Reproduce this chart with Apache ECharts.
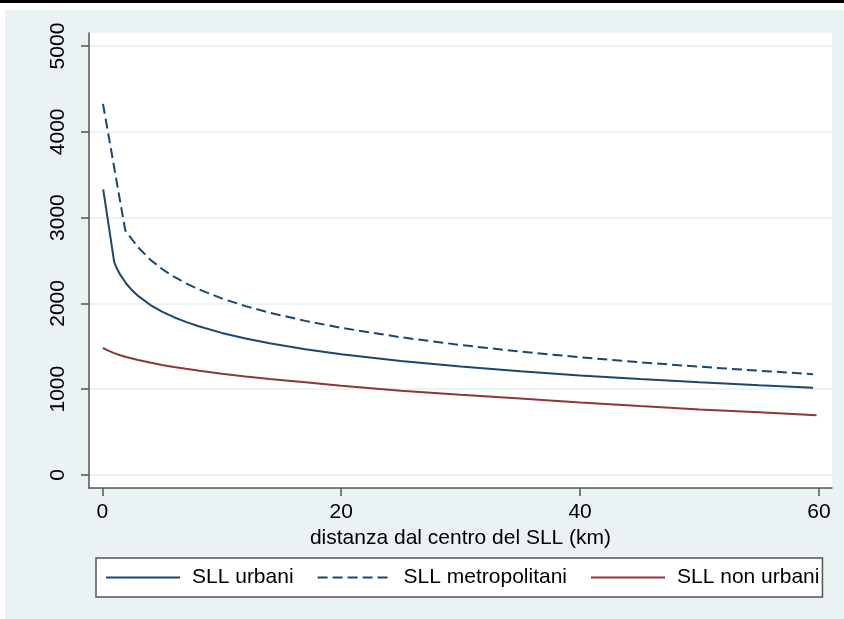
<!DOCTYPE html>
<html>
<head>
<meta charset="utf-8">
<script src="https://cdn.jsdelivr.net/npm/echarts@6/dist/echarts.min.js"></script>
<style>
  html, body { margin: 0; padding: 0; background: #fff; }
  #chart { width: 844px; height: 619px; }
</style>
</head>
<body>
<div id="chart"></div>
<script>
// Distance from the SLL centre (km) and estimated values for each SLL type
const urbaniX = [0.08, 1, 1.25, 1.5, 2, 2.5, 3, 4, 5, 6, 7, 8, 10, 12, 14, 17, 20, 25, 30, 35, 40, 45, 50, 55, 59.5];
const urbaniY = [3330, 2480, 2400, 2335, 2232, 2152, 2087, 1984, 1904, 1839, 1784, 1736, 1656, 1591, 1536, 1466, 1408, 1328, 1263, 1208, 1160, 1118, 1080, 1046, 1018];

const metroX = [0.06, 1.92, 2.5, 3, 4, 5, 6, 7, 8, 10, 12, 14, 17, 20, 25, 30, 35, 40, 45, 50, 55, 59.5];
const metroY = [4326, 2855, 2745, 2654, 2512, 2401, 2311, 2235, 2169, 2058, 1968, 1892, 1796, 1715, 1605, 1515, 1438, 1372, 1314, 1262, 1215, 1175];

const nonUrbaniX = [0.06, 0.5, 1, 1.5, 2, 3, 4, 5, 6, 7, 8, 10, 12, 14, 17, 20, 25, 30, 35, 40, 45, 50, 55, 59.8];
const nonUrbaniY = [1480, 1450, 1420, 1396, 1375, 1340, 1310, 1283, 1258, 1237, 1217, 1180, 1148, 1120, 1080, 1040, 983, 935, 890, 845, 803, 764, 730, 697];

const xTicks = [0, 20, 40, 60];
const yTicks = [0, 1000, 2000, 3000, 4000, 5000];

const seriesNames = ['SLL urbani', 'SLL metropolitani', 'SLL non urbani'];
const NAVY = '#1a476f';
const MAROON = '#90353b';
const BG = '#eaf2f3';
const FONT = '"Liberation Sans", Arial, sans-serif';

function pairs(xs, ys) { return xs.map((x, i) => [x, ys[i]]); }

const chart = echarts.init(document.getElementById('chart'), null, { renderer: 'canvas' });

chart.setOption({
  backgroundColor: '#fff',
  animation: false,
  textStyle: { fontFamily: FONT, color: '#000' },
  graphic: [
    { type: 'rect', z: -100, shape: { x: 0, y: 0, width: 844, height: 3 }, style: { fill: '#000' }, silent: true },
    { type: 'rect', z: -100, shape: { x: 5, y: 10, width: 839, height: 609 }, style: { fill: BG }, silent: true }
  ],
  grid: {
    left: 89, right: 12, top: 33, bottom: 131,
    show: true, backgroundColor: '#fff', borderWidth: 0
  },
  xAxis: {
    type: 'value',
    min: -1.11, max: 61.09,
    name: 'distanza dal centro del SLL (km)',
    nameLocation: 'middle',
    nameGap: 28,
    nameTextStyle: { fontSize: 21, fontFamily: FONT, color: '#000' },
    axisLine: { show: true, onZero: false, lineStyle: { color: '#555', width: 1.5 } },
    axisTick: { show: true, length: 8, customValues: xTicks, lineStyle: { color: '#555', width: 1.5 } },
    axisLabel: { customValues: xTicks, fontSize: 21, margin: 14, color: '#000', fontFamily: FONT },
    splitLine: { show: false }
  },
  yAxis: {
    type: 'value',
    min: -152, max: 5152,
    axisLine: { show: true, onZero: false, lineStyle: { color: '#555', width: 1.5 } },
    axisTick: { show: true, length: 8, customValues: yTicks, lineStyle: { color: '#555', width: 1.5 } },
    axisLabel: {
      customValues: yTicks, rotate: 90, fontSize: 21, margin: 20, color: '#000', fontFamily: FONT,
      formatter: v => String(v)
    },
    splitLine: { show: true, lineStyle: { color: BG, width: 2 } }
  },
  legend: {
    data: seriesNames,
    left: 96, top: 558,
    orient: 'horizontal',
    padding: [9, 3, 9, 9],
    itemGap: 23,
    itemWidth: 74,
    itemHeight: 14,
    itemStyle: { opacity: 0, borderWidth: 0 },
    backgroundColor: '#fff',
    borderColor: '#555',
    borderWidth: 1.5,
    borderRadius: 0,
    textStyle: { fontSize: 21, fontFamily: FONT, color: '#000', padding: [0, 0, 0, 7] }
  },
  series: [
    {
      name: seriesNames[0], type: 'line', data: pairs(urbaniX, urbaniY),
      symbol: 'none', smooth: false,
      lineStyle: { color: NAVY, width: 2 }, itemStyle: { color: NAVY }
    },
    {
      name: seriesNames[1], type: 'line', data: pairs(metroX, metroY),
      symbol: 'none', smooth: false,
      lineStyle: { color: NAVY, width: 2, type: [10, 5] }, itemStyle: { color: NAVY }
    },
    {
      name: seriesNames[2], type: 'line', data: pairs(nonUrbaniX, nonUrbaniY),
      symbol: 'none', smooth: false,
      lineStyle: { color: MAROON, width: 2 }, itemStyle: { color: MAROON }
    }
  ]
});
</script>
</body>
</html>
